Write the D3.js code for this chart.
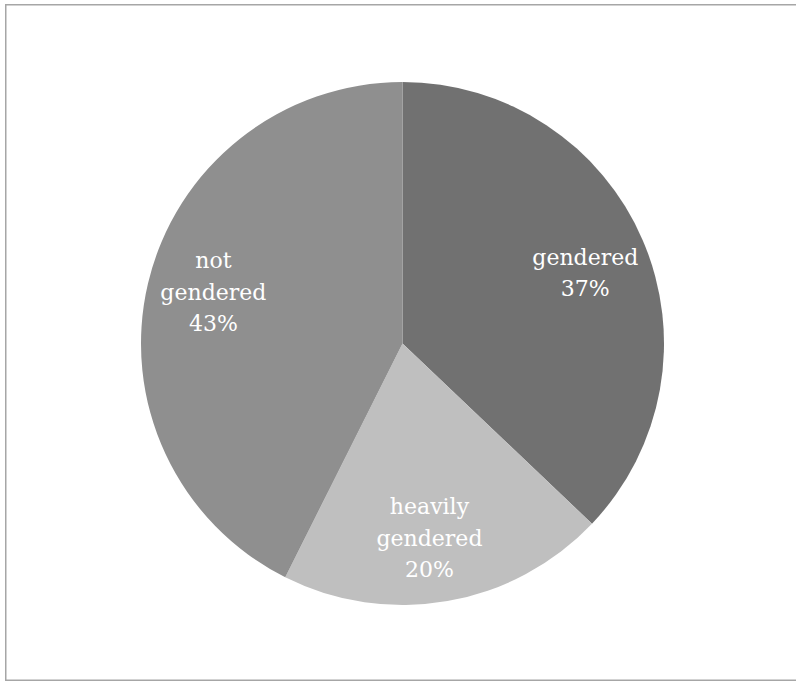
<!DOCTYPE html>
<html><head><meta charset="utf-8">
<script src="https://cdn.jsdelivr.net/npm/d3@7"></script>
<style>html,body{margin:0;padding:0;background:#fff;}svg{display:block;}</style>
</head><body>
<script>
const categories = ["gendered", "heavily gendered", "not gendered"];
const labelLines = [["gendered"], ["heavily", "gendered"], ["not", "gendered"]];
const values = [37.1, 20.3, 42.6];
const colors = ["#717171", "#bfbfbf", "#8f8f8f"];

const W = 796, H = 682;
const svg = d3.select("body").append("svg").attr("width", W).attr("height", H);

svg.append("rect").attr("x", 5.75).attr("y", 4.75).attr("width", 820).attr("height", 675.5)
  .attr("fill", "none").attr("stroke", "#a6a6a6").attr("stroke-width", 1.5);

const cx = 402.5, cy = 343.5, r = 261.5;
const data = categories.map((c, i) => ({ name: c, value: values[i], lines: labelLines[i], color: colors[i] }));
const pie = d3.pie().value(d => d.value).sort(null);
const arc = d3.arc().innerRadius(0).outerRadius(r);
const total = d3.sum(values);
const labelR = r * 0.75, labelShift = 2 * Math.PI / 180;

const g = svg.append("g").attr("transform", `translate(${cx},${cy})`);
const arcs = pie(data);
g.selectAll("path").data(arcs).join("path")
  .attr("d", arc).attr("fill", d => d.data.color);

const lh = 31.5;
arcs.forEach(a => {
  const mid = (a.startAngle + a.endAngle) / 2 + labelShift;
  const x = labelR * Math.sin(mid), y = -labelR * Math.cos(mid);
  const lines = a.data.lines.concat([Math.round(a.data.value / total * 100) + "%"]);
  const n = lines.length;
  const t = g.append("text").attr("text-anchor", "middle")
    .attr("font-family", "DejaVu Serif").attr("font-size", 22).attr("fill", "#ffffff");
  lines.forEach((l, i) => {
    t.append("tspan").attr("x", x).attr("y", y + (i - (n - 1) / 2) * lh + 8).text(l);
  });
});
</script>
</body></html>
